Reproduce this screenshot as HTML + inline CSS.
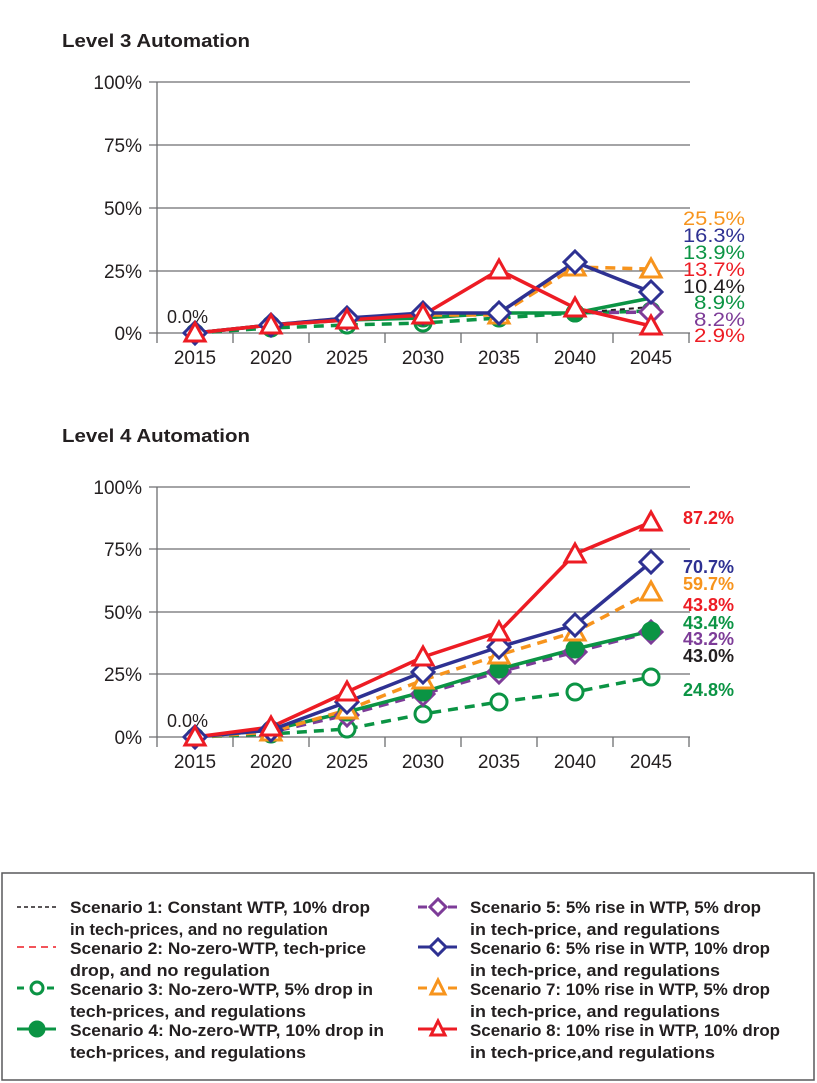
<!DOCTYPE html>
<html><head><meta charset="utf-8"><style>
html,body{margin:0;padding:0;background:#fff;}
svg{display:block;font-family:"Liberation Sans",sans-serif;}
</style></head><body>
<svg width="817" height="1083" viewBox="0 0 817 1083" xmlns="http://www.w3.org/2000/svg">
<defs>
<g id="tri"><polygon points="0,-10 10,8 -10,8" stroke-width="3" fill="#fff" stroke-linejoin="miter"/></g>
</defs>
<!-- TOP CHART -->
<text x="62" y="47" font-size="18" font-weight="bold" fill="#231f20" textLength="188" lengthAdjust="spacingAndGlyphs">Level 3 Automation</text>
<g stroke="#6d6e71" stroke-width="1.3">
<line x1="149" y1="82" x2="690" y2="82"/><line x1="149" y1="145" x2="690" y2="145"/>
<line x1="149" y1="208" x2="690" y2="208"/><line x1="149" y1="271" x2="690" y2="271"/>
<line x1="149" y1="333" x2="690" y2="333"/><line x1="157" y1="82" x2="157" y2="343"/>
<line x1="233" y1="333" x2="233" y2="343"/><line x1="309" y1="333" x2="309" y2="343"/><line x1="385" y1="333" x2="385" y2="343"/><line x1="461" y1="333" x2="461" y2="343"/><line x1="537" y1="333" x2="537" y2="343"/><line x1="613" y1="333" x2="613" y2="343"/><line x1="689" y1="333" x2="689" y2="343"/>
</g>
<g font-size="19" fill="#231f20" text-anchor="end">
<text x="142" y="89">100%</text><text x="142" y="152">75%</text><text x="142" y="215">50%</text><text x="142" y="278">25%</text><text x="142" y="340">0%</text>
</g>
<g font-size="19" fill="#231f20" text-anchor="middle">
<text x="195" y="364">2015</text><text x="271" y="364">2020</text><text x="347" y="364">2025</text><text x="423" y="364">2030</text><text x="499" y="364">2035</text><text x="575" y="364">2040</text><text x="651" y="364">2045</text>
</g>
<text x="167" y="323" font-size="18" fill="#231f20">0.0%</text>
<g fill="none" stroke-width="3.5">
<polyline points="195,333 271,328 347,325 423,323 499,318 575,313 651,311" stroke="#0b9444" stroke-dasharray="10,7"/>
<polyline points="575,313 651,307" stroke="#231f20" stroke-width="2" stroke-dasharray="5,4"/>
<polyline points="195,333 271,325 347,320 423,318 499,313 575,313 651,298" stroke="#0b9444"/>
<polyline points="575,313 651,312" stroke="#7d3c98" stroke-dasharray="10,7"/>
<polyline points="195,333 271,325 347,318 423,315 499,315 575,267 651,269" stroke="#f7941d" stroke-dasharray="10,7"/>
<polyline points="195,333 271,325 347,318 423,313 499,313 575,262 651,292" stroke="#2e3192"/>
<polyline points="195,333 271,325 347,320 423,315 499,270 575,308 651,326" stroke="#ed1c24"/>
</g>
<g stroke-width="3" fill="#fff">
<g stroke="#0b9444"><circle cx="195" cy="333" r="8"/><circle cx="271" cy="328" r="8"/><circle cx="347" cy="325" r="8"/><circle cx="423" cy="323" r="8"/><circle cx="499" cy="318" r="8"/><circle cx="575" cy="313" r="8"/><circle cx="651" cy="311" r="8"/></g>
<g fill="#0b9444" stroke="#0b9444"><circle cx="195" cy="333" r="8"/><circle cx="271" cy="325" r="8"/><circle cx="347" cy="320" r="8"/><circle cx="423" cy="318" r="8"/><circle cx="499" cy="313" r="8"/><circle cx="575" cy="313" r="8"/></g>
<g stroke="#7d3c98"><polygon points="651,301 662,312 651,323 640,312"/></g>
<g stroke="#f7941d"><use href="#tri" x="575" y="267"/><use href="#tri" x="651" y="269"/><use href="#tri" x="499" y="315"/></g>
<g stroke="#2e3192"><polygon points="195,322 206,333 195,344 184,333"/><polygon points="271,314 282,325 271,336 260,325"/><polygon points="347,307 358,318 347,329 336,318"/><polygon points="423,302 434,313 423,324 412,313"/><polygon points="499,302 510,313 499,324 488,313"/><polygon points="575,251 586,262 575,273 564,262"/><polygon points="651,281 662,292 651,303 640,292"/></g>
<g stroke="#ed1c24"><use href="#tri" x="195" y="333"/><use href="#tri" x="271" y="325"/><use href="#tri" x="347" y="320"/><use href="#tri" x="423" y="315"/><use href="#tri" x="499" y="270"/><use href="#tri" x="575" y="308"/><use href="#tri" x="651" y="326"/></g>
</g>
<g font-size="19">
<text x="683" y="225" fill="#f7941d" textLength="62" lengthAdjust="spacingAndGlyphs">25.5%</text><text x="683" y="242" fill="#2e3192" textLength="62" lengthAdjust="spacingAndGlyphs">16.3%</text>
<text x="683" y="259" fill="#0b9444" textLength="62" lengthAdjust="spacingAndGlyphs">13.9%</text><text x="683" y="276" fill="#ed1c24" textLength="62" lengthAdjust="spacingAndGlyphs">13.7%</text>
<text x="683" y="293" fill="#231f20" textLength="62" lengthAdjust="spacingAndGlyphs">10.4%</text><text x="694" y="309" fill="#0b9444" textLength="51" lengthAdjust="spacingAndGlyphs">8.9%</text>
<text x="694" y="326" fill="#7d3c98" textLength="51" lengthAdjust="spacingAndGlyphs">8.2%</text><text x="694" y="342" fill="#ed1c24" textLength="51" lengthAdjust="spacingAndGlyphs">2.9%</text>
</g>

<!-- BOTTOM CHART -->
<text x="62" y="442" font-size="18" font-weight="bold" fill="#231f20" textLength="188" lengthAdjust="spacingAndGlyphs">Level 4 Automation</text>
<g stroke="#6d6e71" stroke-width="1.3">
<line x1="149" y1="487" x2="690" y2="487"/><line x1="149" y1="549" x2="690" y2="549"/>
<line x1="149" y1="612" x2="690" y2="612"/><line x1="149" y1="674" x2="690" y2="674"/>
<line x1="149" y1="737" x2="690" y2="737"/><line x1="157" y1="487" x2="157" y2="747"/>
<line x1="233" y1="737" x2="233" y2="747"/><line x1="309" y1="737" x2="309" y2="747"/><line x1="385" y1="737" x2="385" y2="747"/><line x1="461" y1="737" x2="461" y2="747"/><line x1="537" y1="737" x2="537" y2="747"/><line x1="613" y1="737" x2="613" y2="747"/><line x1="689" y1="737" x2="689" y2="747"/>
</g>
<g font-size="19" fill="#231f20" text-anchor="end">
<text x="142" y="494">100%</text><text x="142" y="556">75%</text><text x="142" y="619">50%</text><text x="142" y="681">25%</text><text x="142" y="744">0%</text>
</g>
<g font-size="19" fill="#231f20" text-anchor="middle">
<text x="195" y="768">2015</text><text x="271" y="768">2020</text><text x="347" y="768">2025</text><text x="423" y="768">2030</text><text x="499" y="768">2035</text><text x="575" y="768">2040</text><text x="651" y="768">2045</text>
</g>
<text x="167" y="727" font-size="18" fill="#231f20">0.0%</text>
<g fill="none" stroke-width="3.5">
<polyline points="195,737 271,734 347,729 423,714 499,702 575,692 651,677" stroke="#0b9444" stroke-dasharray="10,7"/>
<polyline points="195,737 271,732 347,715 423,694 499,672 575,652 651,632" stroke="#7d3c98" stroke-dasharray="10,7"/>
<polyline points="195,737 271,730 347,712 423,692 499,669 575,649 651,631" stroke="#0b9444"/>
<polyline points="195,737 271,732 347,710 423,680 499,655 575,632 651,592" stroke="#f7941d" stroke-dasharray="10,7"/>
<polyline points="195,737 271,730 347,702 423,672 499,647 575,625 651,562" stroke="#2e3192"/>
<polyline points="195,737 271,727 347,692 423,657 499,632 575,554 651,522" stroke="#ed1c24"/>
</g>
<g stroke-width="3" fill="#fff">
<g stroke="#0b9444"><circle cx="195" cy="737" r="8"/><circle cx="271" cy="734" r="8"/><circle cx="347" cy="729" r="8"/><circle cx="423" cy="714" r="8"/><circle cx="499" cy="702" r="8"/><circle cx="575" cy="692" r="8"/><circle cx="651" cy="677" r="8"/></g>
<g stroke="#7d3c98"><polygon points="347,704 358,715 347,726 336,715"/><polygon points="423,683 434,694 423,705 412,694"/><polygon points="499,661 510,672 499,683 488,672"/><polygon points="575,641 586,652 575,663 564,652"/><polygon points="651,621 662,632 651,643 640,632"/></g>
<g fill="#0b9444" stroke="#0b9444"><circle cx="195" cy="737" r="8"/><circle cx="271" cy="730" r="8"/><circle cx="347" cy="712" r="8"/><circle cx="423" cy="692" r="8"/><circle cx="499" cy="669" r="8"/><circle cx="575" cy="649" r="8"/><circle cx="651" cy="631" r="8"/></g>
<g stroke="#f7941d"><use href="#tri" x="271" y="732"/><use href="#tri" x="347" y="710"/><use href="#tri" x="423" y="680"/><use href="#tri" x="499" y="655"/><use href="#tri" x="575" y="632"/><use href="#tri" x="651" y="592"/></g>
<g stroke="#2e3192"><polygon points="195,726 206,737 195,748 184,737"/><polygon points="271,719 282,730 271,741 260,730"/><polygon points="347,691 358,702 347,713 336,702"/><polygon points="423,661 434,672 423,683 412,672"/><polygon points="499,636 510,647 499,658 488,647"/><polygon points="575,614 586,625 575,636 564,625"/><polygon points="651,551 662,562 651,573 640,562"/></g>
<g stroke="#ed1c24"><use href="#tri" x="195" y="737"/><use href="#tri" x="271" y="727"/><use href="#tri" x="347" y="692"/><use href="#tri" x="423" y="657"/><use href="#tri" x="499" y="632"/><use href="#tri" x="575" y="554"/><use href="#tri" x="651" y="522"/></g>
</g>
<g font-size="18" font-weight="bold">
<text x="683" y="524" fill="#ed1c24">87.2%</text><text x="683" y="573" fill="#2e3192">70.7%</text>
<text x="683" y="590" fill="#f7941d">59.7%</text><text x="683" y="611" fill="#ed1c24">43.8%</text>
<text x="683" y="629" fill="#0b9444">43.4%</text><text x="683" y="645" fill="#7d3c98">43.2%</text>
<text x="683" y="662" fill="#231f20">43.0%</text><text x="683" y="696" fill="#0b9444">24.8%</text>
</g>

<!-- LEGEND -->
<rect x="2" y="873" width="812" height="207" fill="#fff" stroke="#58595b" stroke-width="1.5"/>
<g stroke-width="3" fill="#fff">
<line x1="17" y1="907" x2="56" y2="907" stroke="#231f20" stroke-width="1.5" stroke-dasharray="4,3"/>
<line x1="17" y1="947" x2="56" y2="947" stroke="#ed1c24" stroke-width="1.5" stroke-dasharray="7,5"/>
<line x1="17" y1="988" x2="56" y2="988" stroke="#0b9444" stroke-dasharray="7,8"/><circle cx="37" cy="988" r="6" stroke="#0b9444"/>
<line x1="17" y1="1029" x2="56" y2="1029" stroke="#0b9444"/><circle cx="37" cy="1029" r="7" fill="#0b9444" stroke="#0b9444"/>
<line x1="418" y1="907" x2="457" y2="907" stroke="#7d3c98" stroke-dasharray="9,6"/><polygon points="438,899 446,907 438,915 430,907" stroke="#7d3c98"/>
<line x1="418" y1="947" x2="457" y2="947" stroke="#2e3192"/><polygon points="438,939 446,947 438,955 430,947" stroke="#2e3192"/>
<line x1="418" y1="988" x2="457" y2="988" stroke="#f7941d" stroke-dasharray="9,6"/><polygon points="438,980 445,994 431,994" stroke="#f7941d"/>
<line x1="418" y1="1029" x2="457" y2="1029" stroke="#ed1c24"/><polygon points="438,1021 445,1035 431,1035" stroke="#ed1c24"/>
</g>
<g font-size="17" font-weight="bold" fill="#231f20">
<text x="70" y="913" textLength="300" lengthAdjust="spacingAndGlyphs">Scenario 1: Constant WTP, 10% drop</text>
<text x="70" y="935" textLength="258" lengthAdjust="spacingAndGlyphs">in tech-prices, and no regulation</text>
<text x="70" y="954" textLength="296" lengthAdjust="spacingAndGlyphs">Scenario 2: No-zero-WTP, tech-price</text>
<text x="70" y="976" textLength="200" lengthAdjust="spacingAndGlyphs">drop, and no regulation</text>
<text x="70" y="995" textLength="303" lengthAdjust="spacingAndGlyphs">Scenario 3: No-zero-WTP, 5% drop in</text>
<text x="70" y="1017" textLength="236" lengthAdjust="spacingAndGlyphs">tech-prices, and regulations</text>
<text x="70" y="1036" textLength="314" lengthAdjust="spacingAndGlyphs">Scenario 4: No-zero-WTP, 10% drop in</text>
<text x="70" y="1058" textLength="236" lengthAdjust="spacingAndGlyphs">tech-prices, and regulations</text>
<text x="470" y="913" textLength="291" lengthAdjust="spacingAndGlyphs">Scenario 5: 5% rise in WTP, 5% drop</text>
<text x="470" y="935" textLength="250" lengthAdjust="spacingAndGlyphs">in tech-price, and regulations</text>
<text x="470" y="954" textLength="300" lengthAdjust="spacingAndGlyphs">Scenario 6: 5% rise in WTP, 10% drop</text>
<text x="470" y="976" textLength="250" lengthAdjust="spacingAndGlyphs">in tech-price, and regulations</text>
<text x="470" y="995" textLength="300" lengthAdjust="spacingAndGlyphs">Scenario 7: 10% rise in WTP, 5% drop</text>
<text x="470" y="1017" textLength="250" lengthAdjust="spacingAndGlyphs">in tech-price, and regulations</text>
<text x="470" y="1036" textLength="310" lengthAdjust="spacingAndGlyphs">Scenario 8: 10% rise in WTP, 10% drop</text>
<text x="470" y="1058" textLength="245" lengthAdjust="spacingAndGlyphs">in tech-price,and regulations</text>
</g>
</svg>
</body></html>
